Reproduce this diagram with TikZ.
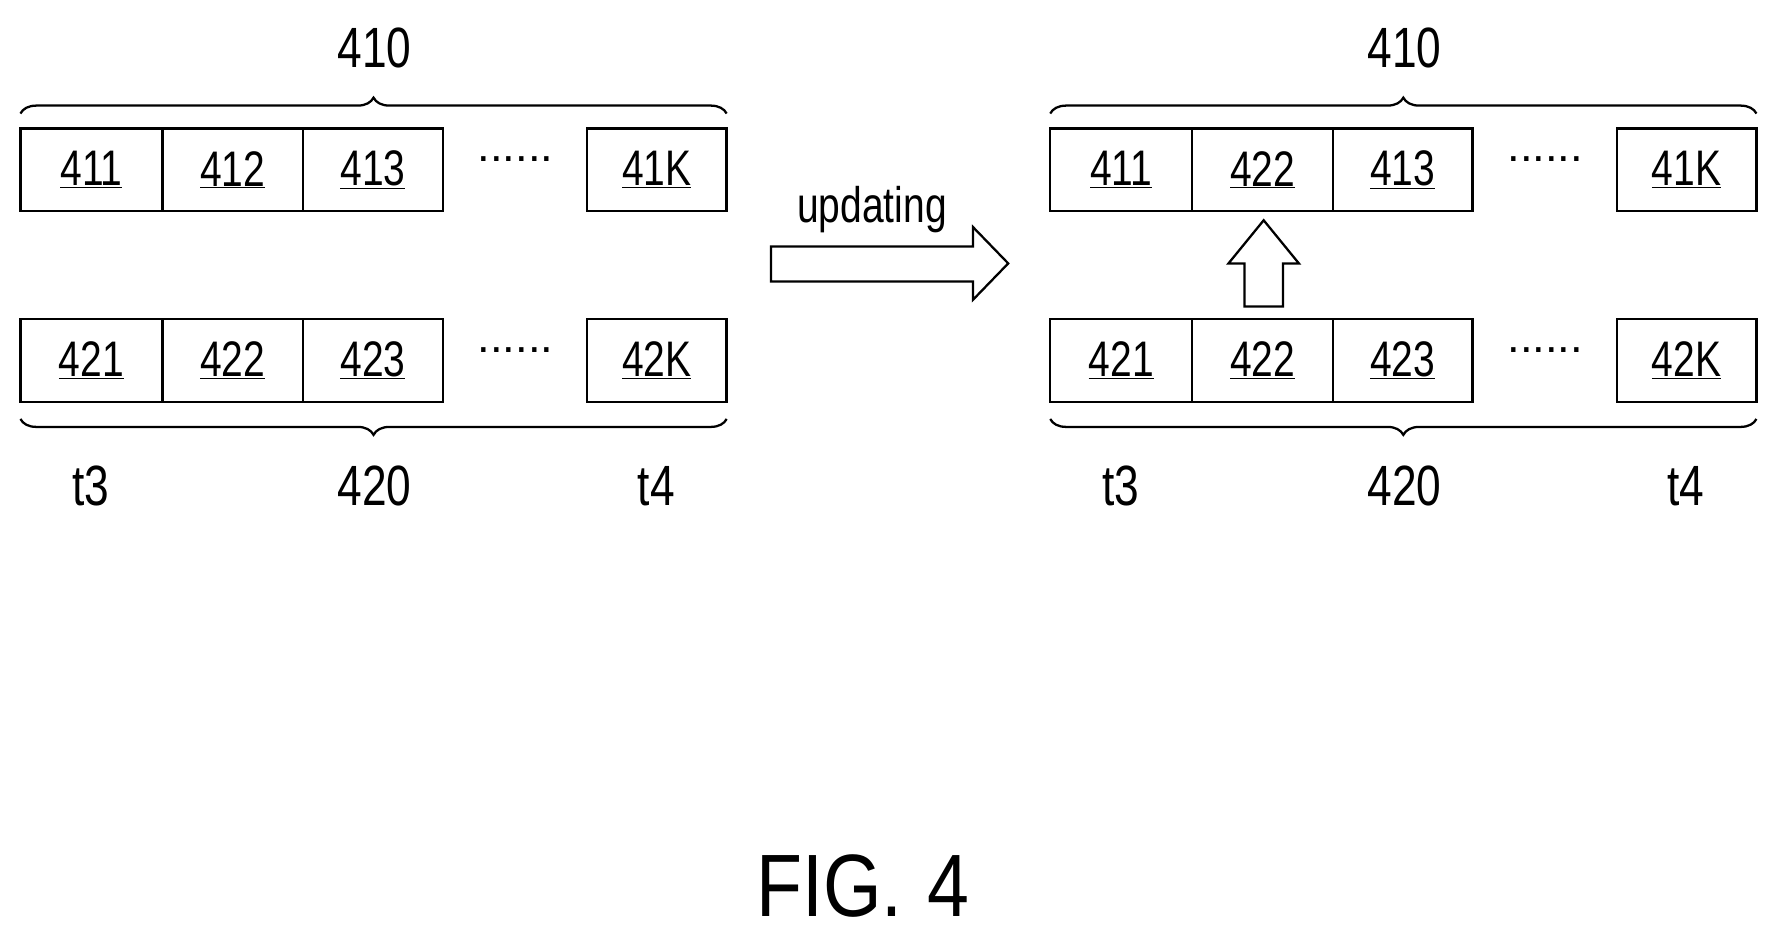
\documentclass[tikz,border=0pt]{standalone}
\usepackage{fontspec}
\setmainfont{Liberation Sans}
\usetikzlibrary{decorations.pathreplacing}
\newcommand{\nar}[1]{\scalebox{0.78}[1]{#1}}
\begin{document}
\begin{tikzpicture}[x=1pt,y=-1pt,
  cell/.style={draw,line width=2.2pt,minimum height=73pt,inner sep=0pt,font=\fontsize{44}{44}\selectfont},
  lab/.style={font=\fontsize{50}{50}\selectfont},
  br/.style={line width=2pt,decorate,decoration={brace,amplitude=14pt}},
  dots/.style={font=\fontsize{40}{40}\selectfont}]
\useasboundingbox (0,0) rectangle (1566,831);
\foreach \o/\p in {0/L,907/R}{
 \begin{scope}[xshift=\o]
 \node[cell,minimum width=125pt] (\p a1) at (80.5,149.5) {\nar{\underline{411}}};
 \node[cell,minimum width=124pt] (\p a2) at (205,149.5) {};
 \node[cell,minimum width=123pt] (\p a3) at (328.5,149.5) {\nar{\underline{413}}};
 \node[dots] (\p ad) at (454,140) {......};
 \node[cell,minimum width=123pt] (\p ak) at (578.5,149.5) {\nar{\underline{41K}}};
 \node[cell,minimum width=125pt] (\p b1) at (80.5,317.5) {\nar{\underline{421}}};
 \node[cell,minimum width=124pt] (\p b2) at (205,317.5) {\nar{\underline{422}}};
 \node[cell,minimum width=123pt] (\p b3) at (328.5,317.5) {\nar{\underline{423}}};
 \node[dots] (\p bd) at (454,308) {......};
 \node[cell,minimum width=123pt] (\p bk) at (578.5,317.5) {\nar{\underline{42K}}};
 \draw[br] (18,100) -- (640,100);
 \draw[br] (640,369) -- (18,369);
 \node[lab] (\p t410) at (330,42) {\nar{410}};
 \node[lab] (\p t3) at (80,428) {\nar{t3}};
 \node[lab] (\p t420) at (330,428) {\nar{420}};
 \node[lab] (\p t4) at (578,428) {\nar{t4}};
 \end{scope}}
\node[font=\fontsize{44}{44}\selectfont] at (La2) {\nar{\underline{412}}};
\node[font=\fontsize{44}{44}\selectfont] at (Ra2) {\nar{\underline{422}}};
\draw[line width=2pt] (679,217) -- (857,217) -- (857,200) -- (888,232) -- (857,264) -- (857,248) -- (679,248) -- cycle;
\node[font=\fontsize{44}{44}\selectfont] (upd) at (768,185) {\nar{updating}};
\draw[line width=2pt] (1096,270) -- (1096,232) -- (1082,232) -- (1113,194) -- (1144,232) -- (1130,232) -- (1130,270) -- cycle;
\node[font=\fontsize{78}{78}\selectfont] (fig) at (760,780) {\scalebox{0.85}[1]{FIG.\,\,4}};
\end{tikzpicture}
\end{document}
